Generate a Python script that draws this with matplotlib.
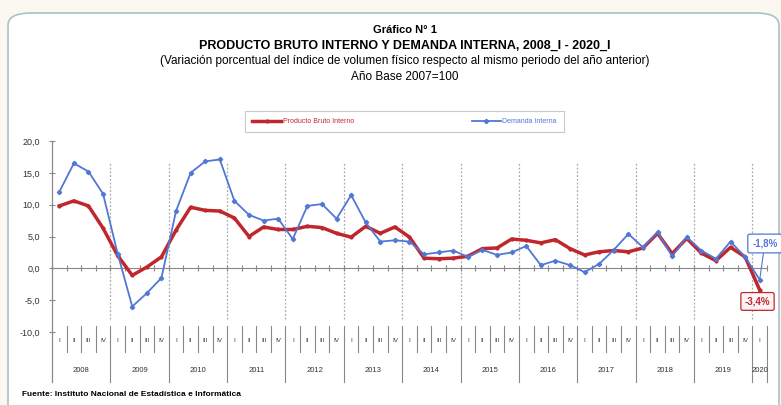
import matplotlib
matplotlib.use("Agg")
import matplotlib.pyplot as plt
from matplotlib.patches import FancyBboxPatch
from matplotlib.ticker import FuncFormatter
import numpy as np

plt.rcParams['font.family'] = ['Liberation Sans Narrow', 'Liberation Sans', 'DejaVu Sans']

# ------------------------------------------------------------------------------
# Data (variacion % trimestral, 2008_I - 2020_I)
# ------------------------------------------------------------------------------
years = ['2008', '2009', '2010', '2011', '2012', '2013', '2014', '2015',
         '2016', '2017', '2018', '2019', '2020']
quarters = ['I', 'II', 'III', 'IV']

pbi = [9.8, 10.6, 9.8, 6.3,
       2.0, -1.1, 0.2, 1.8,
       6.0, 9.6, 9.1, 9.0,
       7.9, 5.0, 6.5, 6.1,
       6.1, 6.6, 6.4, 5.5,
       4.9, 6.6, 5.5, 6.5,
       4.9, 1.6, 1.5, 1.6,
       1.9, 3.1, 3.2, 4.6,
       4.4, 4.0, 4.5, 3.1,
       2.1, 2.6, 2.8, 2.6,
       3.2, 5.5, 2.3, 4.7,
       2.4, 1.2, 3.3, 1.8,
       -3.4]

demanda = [12.0, 16.5, 15.2, 11.7,
           2.3, -6.0, -3.9, -1.5,
           9.0, 15.0, 16.8, 17.1,
           10.6, 8.4, 7.5, 7.8,
           4.6, 9.8, 10.1, 7.8,
           11.5, 7.2, 4.2, 4.4,
           4.2, 2.2, 2.5, 2.8,
           1.8, 2.9, 2.1, 2.5,
           3.5, 0.5, 1.2, 0.5,
           -0.6, 0.7, 2.9, 5.4,
           3.3, 5.7, 1.9, 4.9,
           2.8, 1.5, 4.2, 1.8,
           -1.8]

n = len(pbi)
x = np.arange(n) + 0.5

# ------------------------------------------------------------------------------
# Figure
# ------------------------------------------------------------------------------
fig = plt.figure(figsize=(7.81, 4.05), dpi=100, facecolor='#faf8f1')
W, H = 781., 405.

# rounded frame
frame = FancyBboxPatch((8 / W, -0.1), (771 / W), 1 - 13 / H + 0.1,
                       boxstyle='round,pad=0,rounding_size=0.03',
                       transform=fig.transFigure, facecolor='white',
                       edgecolor='#a8c3c7', lw=1.2, zorder=-5)
fig.patches.append(frame)

ax = fig.add_axes([52 / W, 1 - 332 / H, 715 / W, 191 / H])
ax.set_facecolor('none')
ax.set_xlim(0, n)
ax.set_ylim(-10, 20)

# titles
xc_t = 405 / W
fig.text(xc_t, 1 - 30 / H, 'Gráfico N° 1', ha='center', va='center', fontsize=8, fontweight='bold')
fig.text(xc_t, 1 - 46 / H, 'PRODUCTO BRUTO INTERNO Y DEMANDA INTERNA, 2008_I - 2020_I',
         ha='center', va='center', fontsize=9, fontweight='bold')
fig.text(xc_t, 1 - 61 / H, '(Variación porcentual del índice de volumen físico respecto al mismo periodo del año anterior)',
         ha='center', va='center', fontsize=8.5)
fig.text(xc_t, 1 - 77 / H, 'Año Base 2007=100', ha='center', va='center', fontsize=8.5)
fig.text(22 / W, 1 - 394 / H, 'Fuente: Instituto Nacional de Estadística e Informática',
         ha='left', va='center', fontsize=6, fontweight='bold')

# series
red = '#c0272d'
blue = '#5277d4'
ax.plot(x, pbi, color=red, lw=2.5, marker='o', ms=2, label='Producto Bruto Interno', zorder=3)
ax.plot(x, demanda, color=blue, lw=1.3, marker='D', ms=2.2, label='Demanda Interna', zorder=4)

# spines / axes
for s in ['top', 'right', 'left']:
    ax.spines[s].set_visible(False)
ax.spines['bottom'].set_position(('data', 0))
ax.spines['bottom'].set_color('#888888')
ax.set_xticks(np.arange(0, n + 1))
ax.tick_params(axis='x', direction='inout', length=4, color='#888888', labelbottom=False)
ax.set_yticks([-10, -5, 0, 5, 10, 15, 20])
ax.yaxis.set_major_formatter(FuncFormatter(lambda v, p: ('%.1f' % v).replace('.', ',')))
ax.tick_params(axis='y', direction='inout', length=5, color='#888888', labelsize=6.5,
               labelcolor='#333333', pad=6)
ax.plot([0, 0], [-17.8, 20], color='#888888', lw=0.9, clip_on=False, zorder=2)

# year gridlines (dotted)
for k in range(4, n, 4):
    ax.plot([k, k], [-8.0, 16.5], color='#aaaaaa', lw=0.9, ls=(0, (1.5, 1.5)), zorder=1)

# category axis (two levels)
for k in range(1, n + 1):
    if k % 4 == 0 or k == n:
        ax.plot([k, k], [-9.1, -17.8], color='#888888', lw=0.8, clip_on=False)
    else:
        ax.plot([k, k], [-9.1, -13.1], color='#888888', lw=0.8, clip_on=False)
for i in range(n):
    ax.text(x[i], -11.3, quarters[i % 4], ha='center', va='center', fontsize=4.5,
            color='#333333', clip_on=False)
for j, yr in enumerate(years):
    xc = min(j * 4 + 2, n - 0.5)
    ax.text(xc, -16.1, yr, ha='center', va='center', fontsize=5.5, color='#333333', clip_on=False)

# annotations
ax.annotate('-1,8%', xy=(x[-1], demanda[-1]), xytext=(48.85, 3.9), ha='center', va='center',
            fontsize=7, fontweight='bold', color=blue, annotation_clip=False,
            bbox=dict(boxstyle='round,pad=0.45,rounding_size=0.2', fc='white', ec=blue, lw=0.9),
            arrowprops=dict(arrowstyle='-', color=blue, lw=0.8, shrinkA=0, shrinkB=0))
ax.annotate('-3,4%', xy=(x[-1], pbi[-1]), xytext=(48.35, -5.2), ha='center', va='center',
            fontsize=7, fontweight='bold', color=red, annotation_clip=False,
            bbox=dict(boxstyle='round,pad=0.4,rounding_size=0.2', fc='#fff4f4', ec=red, lw=0.9),
            arrowprops=dict(arrowstyle='-', color=red, lw=0.8, shrinkA=0, shrinkB=0))

# legend
leg = fig.legend(loc='center', bbox_to_anchor=(404.5 / W, 1 - 121.5 / H), ncol=2, fontsize=5,
                 frameon=True, fancybox=False, edgecolor='#bbbbbb', handlelength=4.2,
                 columnspacing=17, borderpad=1.0, borderaxespad=0, handletextpad=0.2,
                 labelcolor='linecolor')
leg.get_frame().set_linewidth(0.8)

fig.savefig('out.png', dpi=100, facecolor=fig.get_facecolor())
